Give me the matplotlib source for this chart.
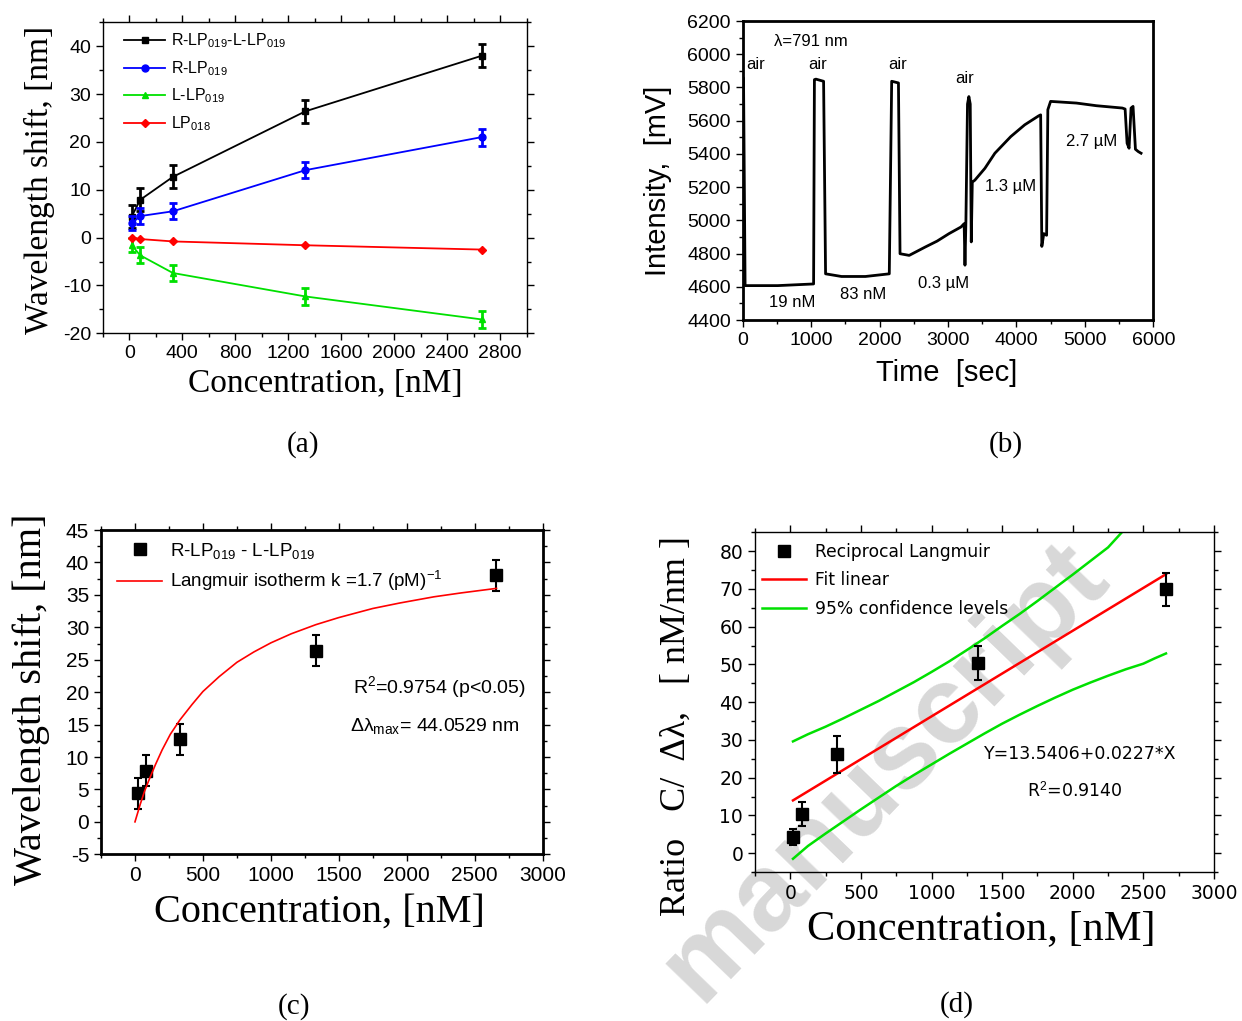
import matplotlib
matplotlib.use('Agg')
import matplotlib.pyplot as plt
from matplotlib.ticker import MultipleLocator

plt.rcParams['font.family'] = ['Liberation Sans', 'DejaVu Sans']
plt.rcParams['mathtext.fontset'] = 'custom'
plt.rcParams['mathtext.rm'] = 'Liberation Sans'
plt.rcParams['mathtext.it'] = 'Liberation Sans:italic'
plt.rcParams['mathtext.bf'] = 'Liberation Sans:bold'
plt.rcParams['axes.unicode_minus'] = False

# ---------------- data ----------------
conc_nM = [19, 83, 330, 1330, 2660]

# panel (a)
shift_rl = [4.4, 7.9, 12.7, 26.4, 38.0]
err_rl = [2.4, 2.4, 2.4, 2.4, 2.4]
shift_r = [3.0, 4.5, 5.5, 14.1, 21.0]
err_r = [1.5, 1.6, 1.7, 1.7, 1.8]
shift_l = [-1.6, -3.7, -7.4, -12.3, -17.1]
err_l = [1.5, 1.7, 1.7, 1.8, 1.8]
shift_lp018 = [0.0, -0.3, -0.8, -1.6, -2.5]
labels_a = ['R-LP$_{019}$-L-LP$_{019}$', 'R-LP$_{019}$', 'L-LP$_{019}$', 'LP$_{018}$']

# panel (b) - time trace
time_s = [0, 12, 35, 512, 1036, 1048, 1070, 1182, 1211, 1444, 1793, 2142,
          2177, 2200, 2276, 2299, 2433, 2666, 2841, 3015, 3190, 3236,
          3248, 3262, 3285, 3305, 3325, 3340, 3355, 3393, 3539, 3685,
          3917, 4121, 4325, 4354, 4371, 4400, 4441, 4459, 4499, 4877,
          5169, 5547, 5588, 5617, 5646, 5675, 5704, 5739, 5780, 5821]
intensity_mv = [5850, 5857, 4607, 4607, 4617, 5847, 5850, 5837, 4678, 4662,
                4662, 4678, 5837, 5835, 5827, 4799, 4789, 4839, 4875, 4920,
                4960, 4980, 4730, 5000, 5700, 5745, 5700, 4870, 5230, 5242,
                5313, 5404, 5504, 5575, 5629, 5635, 4843, 4920, 4910, 5666,
                5716, 5706, 5690, 5676, 5670, 5464, 5434, 5676, 5686, 5428,
                5414, 5404]
b_labels = ['air', 'air', 'air', 'air', '\u03bb=791 nm', '19 nM', '83 nM',
            '0.3 \u00b5M', '1.3 \u00b5M', '2.7 \u00b5M']
b_label_t = [192, 1094, 2258, 3248, 990, 716, 1764, 2928, 3917, 5099]
b_label_i = [5938, 5938, 5938, 5851, 6079, 4506, 4553, 4617, 5202, 5474]

# panel (c)
langmuir_x = [0, 20, 40, 70, 100, 150, 200, 260, 330, 420, 500, 620, 750,
              875, 1000, 1150, 1330, 1500, 1750, 1950, 2200, 2400, 2660]
langmuir_y = [0.0, 1.4, 2.8, 4.7, 6.3, 8.8, 11.1, 13.5, 15.7, 18.1, 20.1,
              22.4, 24.6, 26.2, 27.6, 29.0, 30.4, 31.5, 32.9, 33.75, 34.7,
              35.3, 36.0]

# panel (d)
ratio = [4.3, 10.4, 26.2, 50.4, 69.9]
ratio_err = [2.2, 3.1, 4.9, 4.6, 4.4]
fit_x = [19, 2660]
fit_y = [13.97, 73.9]
ci_up_x = [19, 125, 250, 375, 500, 625, 750, 875, 1000, 1125, 1250, 1375,
           1500, 1625, 1750, 1875, 2000, 2125, 2250, 2350, 2450]
ci_up_y = [29.6, 31.5, 33.5, 35.7, 38.0, 40.3, 42.8, 45.3, 48.0, 50.8, 53.8,
           56.9, 60.2, 63.4, 66.8, 70.3, 73.8, 77.4, 81.0, 85.1, 88.5]
ci_lo_x = [19, 125, 250, 375, 500, 625, 750, 875, 1000, 1125, 1250, 1375,
           1500, 1625, 1750, 1875, 2000, 2125, 2250, 2375, 2500, 2580, 2660]
ci_lo_y = [-1.5, 1.9, 5.2, 8.4, 11.6, 14.7, 17.8, 20.7, 23.5, 26.3, 29.0,
           31.7, 34.3, 36.7, 39.0, 41.2, 43.3, 45.2, 47.0, 48.7, 50.2, 51.6,
           52.9]

# ---------------- figure ----------------
W, H = 1242, 1021
fig = plt.figure(figsize=(W / 100, H / 100), dpi=100)


def ax_at(l, t, r, b):
    return fig.add_axes([l / W, 1 - b / H, (r - l) / W, (b - t) / H])


def style(ax, lw, mirror=True, size=13, family=None):
    for s in ax.spines.values():
        s.set_linewidth(lw)
    ax.tick_params(which='both', direction='out', top=mirror, right=mirror,
                   width=1, labelsize=size)
    ax.tick_params(which='major', length=5)
    ax.tick_params(which='minor', length=3)
    if family:
        for lab in ax.get_xticklabels() + ax.get_yticklabels():
            lab.set_family(family)


serif = 'Liberation Serif'

# ---- (a) ----
axA = ax_at(102.7, 22.3, 526.7, 333.3)
cols = ['black', '#0000ff', '#00e000', '#ff0000']
marks = ['s', 'o', '^', 'D']
series = [shift_rl, shift_r, shift_l, shift_lp018]
errs = [err_rl, err_r, err_l, None]
for ys, e, c, m, lab in zip(series, errs, cols, marks, labels_a):
    axA.plot(conc_nM, ys, color=c, marker=m, ms=5 if m != 'D' else 4.5,
             lw=1.3, label=lab)
    if e is not None:
        axA.errorbar(conc_nM, ys, yerr=e, fmt='none', ecolor=c,
                     elinewidth=2, capsize=3, capthick=2)
axA.set_xlim(-200, 3000)
axA.set_ylim(-20, 45)
axA.xaxis.set_minor_locator(MultipleLocator(200))
axA.set_xticks([0, 400, 800, 1200, 1600, 2000, 2400, 2800])
axA.yaxis.set_minor_locator(MultipleLocator(5))
axA.set_yticks([-20, -10, 0, 10, 20, 30, 40])
style(axA, 1.0, size=14)
axA.legend(loc='upper left', bbox_to_anchor=(0.035, 0.99), frameon=False,
           fontsize=11.5, handlelength=2.6, labelspacing=0.55,
           handletextpad=0.35, borderaxespad=0)
axA.set_xlabel('Concentration, [nM]', family=serif, fontsize=24, va='center')
axA.xaxis.set_label_coords(0.524, -0.163)
axA.set_ylabel('Wavelength shift, [nm]', family=serif, fontsize=24, va='center')
axA.yaxis.set_label_coords(-0.148, 0.493)

# ---- (b) ----
axB = ax_at(742.7, 21, 1153.3, 320)
axB.plot(time_s, intensity_mv, color='black', lw=2)
axB.set_xlim(0, 6000)
axB.set_ylim(4400, 6200)
axB.xaxis.set_major_locator(MultipleLocator(1000))
axB.xaxis.set_minor_locator(MultipleLocator(500))
axB.yaxis.set_major_locator(MultipleLocator(200))
axB.yaxis.set_minor_locator(MultipleLocator(100))
style(axB, 2.0, mirror=False, size=14)
for txt, t, v in zip(b_labels, b_label_t, b_label_i):
    axB.text(t, v, txt, ha='center', va='center', fontsize=12)
axB.set_xlabel('Time  [sec]', fontsize=21, va='center')
axB.xaxis.set_label_coords(0.4976, -0.177)
axB.set_ylabel('Intensity,  [mV]', fontsize=21, va='center')
axB.yaxis.set_label_coords(-0.206, 0.465)

# ---- (c) ----
axC = ax_at(101, 530, 542.7, 854.3)
axC.plot(conc_nM, shift_rl, 's', color='black', ms=9,
         label='R-LP$_{019}$ - L-LP$_{019}$')
axC.errorbar(conc_nM, shift_rl, yerr=err_rl, fmt='none', ecolor='black',
             elinewidth=1.5, capsize=3, capthick=1.5)
axC.plot(langmuir_x, langmuir_y, color='red', lw=1.2,
         label='Langmuir isotherm k =1.7 (pM)$^{-1}$')
axC.set_xlim(-250, 3000)
axC.set_ylim(-5, 45)
axC.xaxis.set_major_locator(MultipleLocator(500))
axC.xaxis.set_minor_locator(MultipleLocator(250))
axC.yaxis.set_major_locator(MultipleLocator(5))
axC.yaxis.set_minor_locator(MultipleLocator(2.5))
style(axC, 2.0, size=15)
axC.legend(loc='upper left', bbox_to_anchor=(0.02, 0.99), frameon=False,
           fontsize=13.5, handlelength=2.4, labelspacing=0.45,
           handletextpad=0.4, borderaxespad=0)
axC.text(2238, 20.85, 'R$^2$=0.9754 (p<0.05)', ha='center', va='center',
         fontsize=14)
axC.text(2209, 14.8, '\u0394\u03bb$_{\\mathrm{max}}$= 44.0529 nm', ha='center',
         va='center', fontsize=14)
axC.set_xlabel('Concentration, [nM]', family=serif, fontsize=29, va='center')
axC.xaxis.set_label_coords(0.4947, -0.178)
axC.set_ylabel('Wavelength shift, [nm]', family=serif, fontsize=29, va='center')
axC.yaxis.set_label_coords(-0.158, 0.479)

# ---- (d) ----
axD = ax_at(755, 532.3, 1214, 872)
axD.set_facecolor('none')
axD.plot(conc_nM, ratio, 's', color='black', ms=9, label='Reciprocal Langmuir',
         zorder=5)
axD.errorbar(conc_nM, ratio, yerr=ratio_err, fmt='none', ecolor='black',
             elinewidth=1.5, capsize=3, capthick=1.5, zorder=5)
axD.plot(fit_x, fit_y, color='red', lw=1.8, label='Fit linear')
axD.plot(ci_up_x, ci_up_y, color='#00e000', lw=1.8,
         label='95% confidence levels')
axD.plot(ci_lo_x, ci_lo_y, color='#00e000', lw=1.8)
axD.set_xlim(-250, 3000)
axD.set_ylim(-5, 85)
axD.xaxis.set_major_locator(MultipleLocator(500))
axD.xaxis.set_minor_locator(MultipleLocator(250))
axD.yaxis.set_major_locator(MultipleLocator(10))
axD.yaxis.set_minor_locator(MultipleLocator(5))
style(axD, 1.0, size=13.5, family='DejaVu Sans')
axD.legend(loc='upper left', bbox_to_anchor=(0.0, 0.99), frameon=False,
           prop={'family': 'DejaVu Sans', 'size': 12.3}, handlelength=2.6,
           labelspacing=0.62, handletextpad=0.5, borderaxespad=0)
axD.text(2053, 26.2, 'Y=13.5406+0.0227*X', ha='center', va='center',
         fontsize=12.5, family='DejaVu Sans')
axD.text(2011, 16.6, 'R$^2$=0.9140', ha='center', va='center',
         fontsize=12.5, family='DejaVu Sans')
axD.set_xlabel('Concentration, [nM]', family=serif, fontsize=30.5, va='center')
axD.xaxis.set_label_coords(0.494, -0.168)
axD.set_ylabel('Ratio   C/  \u0394\u03bb,   [ nM/nm ]', family=serif, fontsize=26,
               va='center')
axD.yaxis.set_label_coords(-0.172, 0.43)

# panel letters
for lab, x, y in [('(a)', 303, 445), ('(b)', 1006, 445), ('(c)', 294, 1007),
                  ('(d)', 957, 1005)]:
    fig.text(x / W, 1 - y / H, lab, ha='center', va='center', family=serif,
             fontsize=21)

# watermark
fig.text(885 / W, 1 - 772 / H, 'manuscript', ha='center', va='center',
         rotation=46, fontsize=79, fontweight='bold', color='#d8d8d8',
         zorder=-1)

fig.savefig('out.png', dpi=100)
